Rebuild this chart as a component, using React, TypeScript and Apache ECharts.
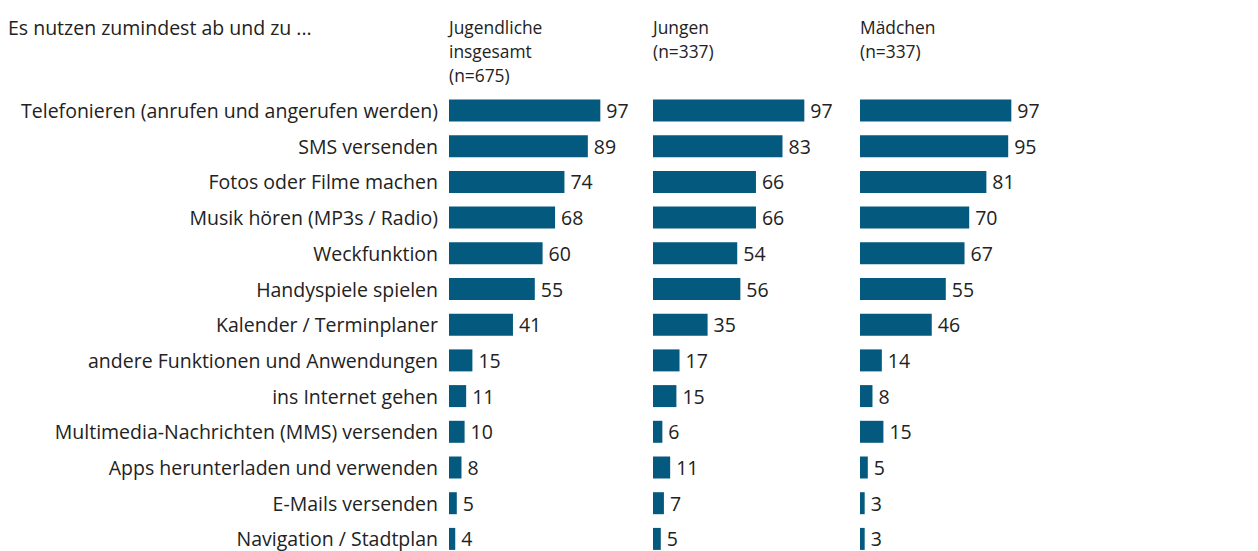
import React, { useEffect, useRef } from "react";
import * as echarts from "echarts";

const categories = [
  "Telefonieren (anrufen und angerufen werden)",
  "SMS versenden",
  "Fotos oder Filme machen",
  "Musik hören (MP3s / Radio)",
  "Weckfunktion",
  "Handyspiele spielen",
  "Kalender / Terminplaner",
  "andere Funktionen und Anwendungen",
  "ins Internet gehen",
  "Multimedia-Nachrichten (MMS) versenden",
  "Apps herunterladen und verwenden",
  "E-Mails versenden",
  "Navigation / Stadtplan",
];
const totalValues = [97, 89, 74, 68, 60, 55, 41, 15, 11, 10, 8, 5, 4];
const boysValues = [97, 83, 66, 66, 54, 56, 35, 17, 15, 6, 11, 7, 5];
const girlsValues = [97, 95, 81, 70, 67, 55, 46, 14, 8, 15, 5, 3, 3];
const panelHeaders = [
  ["Jugendliche", "insgesamt", "(n=675)"],
  ["Jungen", "(n=337)"],
  ["Mädchen", "(n=337)"],
];
const leadText = "Es nutzen zumindest ab und zu ...";

const FONT = "Open Sans";
const FS = 19.5;
const HFS = 17.4;
const BAR = "#045a7e";
const TEXT = "#222222";

export default function App() {
  const ref = useRef<HTMLDivElement>(null);
  useEffect(() => {
    document.body.style.margin = "0";
    const chart = echarts.init(ref.current!, null, { renderer: "svg" });
    const lefts = [449, 653, 860];
    const series = [totalValues, boysValues, girlsValues];
    const top = 110.5;
    const height = 35.7 * 12;
    const grids = lefts.map((l) => ({ left: l, top, width: 156, height }));
    const xAxes = lefts.map((_, i) => ({
      type: "value",
      gridIndex: i,
      min: 0,
      max: 100,
      show: false,
    }));
    const yAxes = lefts.map((_, i) => ({
      type: "category",
      gridIndex: i,
      data: categories,
      inverse: true,
      boundaryGap: false,
      axisLine: { show: false },
      axisTick: { show: false },
      splitLine: { show: false },
      axisLabel: {
        show: i === 0,
        margin: 11,
        fontFamily: FONT,
        fontSize: FS,
        color: TEXT,
      },
    }));
    const s = series.map((vals, i) => ({
      type: "bar",
      xAxisIndex: i,
      yAxisIndex: i,
      data: vals,
      barWidth: 22,
      itemStyle: { color: BAR },
      label: {
        show: true,
        position: "right",
        distance: 6,
        fontFamily: FONT,
        fontSize: FS,
        color: TEXT,
      },
    }));
    const graphic: any[] = [
      {
        type: "text",
        x: 8,
        y: 27,
        style: {
          text: leadText,
          fontFamily: FONT,
          fontSize: FS,
          fill: TEXT,
          verticalAlign: "middle",
        },
      },
    ];
    panelHeaders.forEach((lines, i) => {
      lines.forEach((line, j) => {
        graphic.push({
          type: "text",
          x: lefts[i],
          y: 27 + j * 23.8,
          style: {
            text: line,
            fontFamily: FONT,
            fontSize: HFS,
            fill: TEXT,
            verticalAlign: "middle",
          },
        });
      });
    });
    chart.setOption({
      animation: false,
      grid: grids,
      xAxis: xAxes,
      yAxis: yAxes,
      series: s,
      graphic,
    });
    return () => chart.dispose();
  }, []);
  return <div ref={ref} style={{ width: 1258, height: 551 }} />;
}
